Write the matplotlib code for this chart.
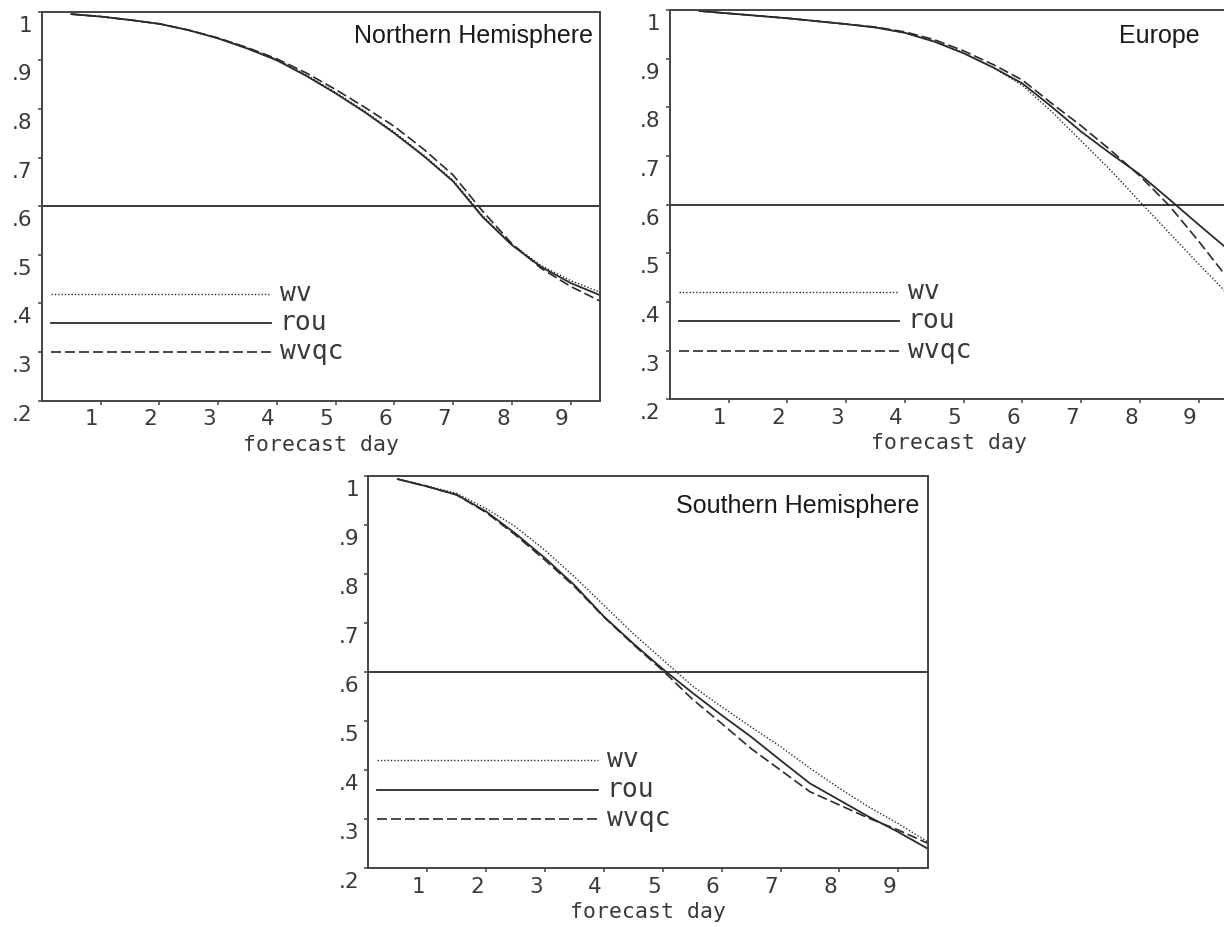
import matplotlib
matplotlib.use("Agg")
import matplotlib.pyplot as plt
import matplotlib.transforms as mtrans

# ---------------- data ----------------
days = [0.5, 1, 1.5, 2, 2.5, 3, 3.5, 4, 4.5, 5, 5.5, 6, 6.5, 7, 7.5, 8, 8.5, 9, 9.5]

nh_wv   = [0.995, 0.990, 0.983, 0.975, 0.962, 0.945, 0.925, 0.902, 0.870, 0.834, 0.795, 0.752, 0.705, 0.653, 0.581, 0.521, 0.478, 0.447, 0.423]
nh_rou  = [0.995, 0.990, 0.983, 0.975, 0.962, 0.945, 0.924, 0.900, 0.868, 0.832, 0.793, 0.750, 0.703, 0.651, 0.578, 0.520, 0.475, 0.442, 0.417]
nh_wvqc = [0.995, 0.990, 0.983, 0.975, 0.962, 0.946, 0.926, 0.903, 0.874, 0.840, 0.803, 0.764, 0.717, 0.664, 0.590, 0.523, 0.472, 0.435, 0.405]

eu_wv   = [0.998, 0.993, 0.988, 0.983, 0.977, 0.971, 0.964, 0.953, 0.936, 0.912, 0.882, 0.845, 0.791, 0.731, 0.671, 0.606, 0.542, 0.478, 0.416]
eu_rou  = [0.998, 0.993, 0.988, 0.983, 0.977, 0.971, 0.964, 0.953, 0.935, 0.911, 0.882, 0.849, 0.801, 0.750, 0.705, 0.662, 0.611, 0.559, 0.508]
eu_wvqc = [0.998, 0.993, 0.988, 0.983, 0.977, 0.971, 0.965, 0.955, 0.939, 0.916, 0.888, 0.856, 0.808, 0.762, 0.712, 0.659, 0.598, 0.525, 0.448]

sh_wv   = [0.993, 0.979, 0.964, 0.933, 0.896, 0.848, 0.794, 0.736, 0.678, 0.625, 0.572, 0.529, 0.488, 0.448, 0.404, 0.363, 0.325, 0.291, 0.254]
sh_rou  = [0.993, 0.978, 0.961, 0.927, 0.882, 0.832, 0.777, 0.713, 0.658, 0.606, 0.558, 0.512, 0.468, 0.420, 0.373, 0.339, 0.305, 0.274, 0.240]
sh_wvqc = [0.993, 0.978, 0.961, 0.925, 0.879, 0.828, 0.774, 0.712, 0.656, 0.603, 0.545, 0.495, 0.444, 0.400, 0.356, 0.329, 0.302, 0.278, 0.251]

panel_titles = ["Northern Hemisphere", "Europe", "Southern Hemisphere"]
series_names = ["wv", "rou", "wvqc"]
x_ticks = [1, 2, 3, 4, 5, 6, 7, 8, 9]
x_tick_labels = ["1", "2", "3", "4", "5", "6", "7", "8", "9"]
y_ticks = [0.2, 0.3, 0.4, 0.5, 0.6, 0.7, 0.8, 0.9, 1.0]
y_tick_labels = [".2", ".3", ".4", ".5", ".6", ".7", ".8", ".9", "1"]
ref_level = 0.6
x_label = "forecast day"

# ---------------- style ----------------
W, H, DPI = 1224, 927, 100
INK = "#2b2b2b"
TXT = "#3a3a3a"
TICK_FONT = ["Liberation Sans Narrow", "DejaVu Sans"]
styles = {
    "wv":   dict(ls=(0, (1.0, 1.4)), lw=1.0),
    "rou":  dict(ls="-", lw=1.3),
    "wvqc": dict(ls=(0, (6.0, 2.4)), lw=1.2),
}

panels = [
    dict(rect=[42 / W, 1 - 400.7 / H, 558 / W, 389 / H],
         data=[nh_wv, nh_rou, nh_wvqc], title=panel_titles[0], tpos=(0.988, 0.919)),
    dict(rect=[670 / W, 1 - 399.3 / H, 558 / W, 389.3 / H],
         data=[eu_wv, eu_rou, eu_wvqc], title=panel_titles[1], tpos=(0.950, 0.914)),
    dict(rect=[368.4 / W, 1 - 868.3 / H, 559.3 / W, 392.6 / H],
         data=[sh_wv, sh_rou, sh_wvqc], title=panel_titles[2], tpos=(0.986, 0.905)),
]

fig = plt.figure(figsize=(W / DPI, H / DPI), dpi=DPI)
fig.patch.set_facecolor("white")

dx_shift = mtrans.ScaledTranslation(-9 / DPI, 0, fig.dpi_scale_trans)
dy_shift = mtrans.ScaledTranslation(0, -12 / DPI, fig.dpi_scale_trans)

for p in panels:
    ax = fig.add_axes(p["rect"])
    for name, vals in zip(series_names, p["data"]):
        st = styles[name]
        ax.plot(days, vals, color=INK, linestyle=st["ls"], linewidth=st["lw"])
    ax.axhline(ref_level, color=INK, lw=1.3)

    ax.set_xlim(0, 9.5)
    ax.set_ylim(0.2, 1.0)
    ax.set_xticks(x_ticks, labels=x_tick_labels)
    ax.set_yticks(y_ticks, labels=y_tick_labels)
    ax.tick_params(axis="both", direction="out", length=3.2, width=1.1,
                   color="#444444", labelsize=15.5, labelcolor=TXT)
    ax.tick_params(axis="x", pad=3.0)
    ax.tick_params(axis="y", pad=3.5)
    for lab in ax.get_xticklabels() + ax.get_yticklabels():
        lab.set_family(TICK_FONT)
    for lab in ax.get_xticklabels():
        lab.set_transform(lab.get_transform() + dx_shift)
    for lab in ax.get_yticklabels():
        lab.set_transform(lab.get_transform() + dy_shift)
    for sp in ax.spines.values():
        sp.set_color("#444444")
        sp.set_linewidth(1.4)

    ax.set_xlabel(x_label, family="DejaVu Sans Mono", fontsize=15.5,
                  color=TXT, labelpad=4)

    ax.text(p["tpos"][0], p["tpos"][1], p["title"], transform=ax.transAxes,
            ha="right", va="baseline", family="Liberation Sans", fontsize=18,
            color="#1a1a1a")

    # key (legend) drawn at fixed axes-fraction layout positions
    key_rows = [0.275, 0.200, 0.125]
    for name, yk in zip(series_names, key_rows):
        st = styles[name]
        ax.plot([0.0156, 0.410], [yk, yk], transform=ax.transAxes,
                color=INK, linestyle=st["ls"], linewidth=st["lw"])
        ax.text(0.426, yk, name, transform=ax.transAxes, ha="left",
                va="center", family="DejaVu Sans Mono", fontsize=19,
                color=TXT)

fig.savefig("out.png", dpi=DPI, facecolor="white")
